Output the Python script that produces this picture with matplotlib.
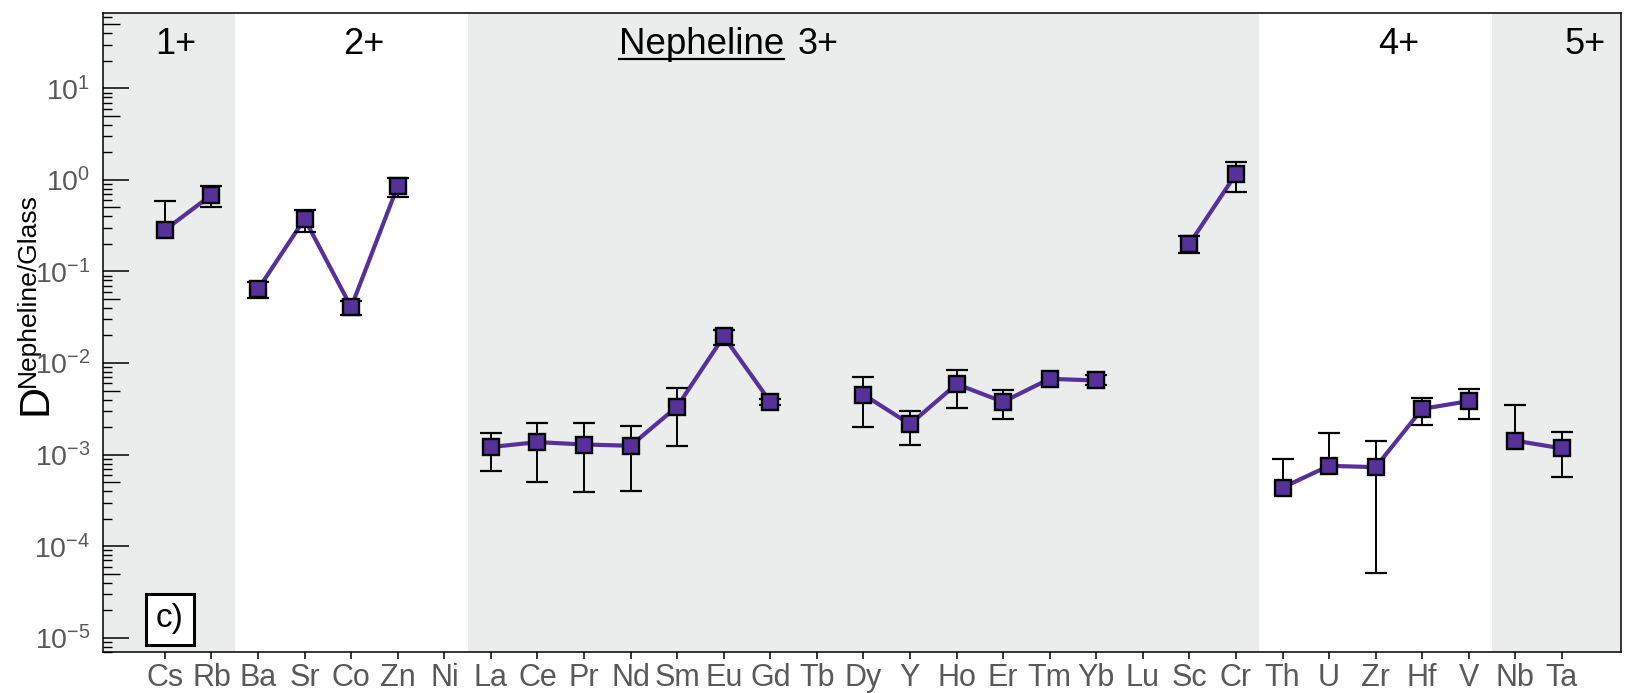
import numpy as np
import matplotlib
matplotlib.use('Agg')
import matplotlib.pyplot as plt
from matplotlib.ticker import LogLocator, NullFormatter, FuncFormatter, FixedLocator
from matplotlib.lines import Line2D

plt.rcParams['font.family'] = ['Liberation Sans', 'DejaVu Sans']
plt.rcParams['mathtext.fontset'] = 'custom'
plt.rcParams['mathtext.rm'] = 'Liberation Sans'
plt.rcParams['mathtext.it'] = 'Liberation Sans:italic'
plt.rcParams['mathtext.bf'] = 'Liberation Sans:bold'

nan = np.nan

# data
elements = ['Cs', 'Rb', 'Ba', 'Sr', 'Co', 'Zn', 'Ni', 'La', 'Ce', 'Pr', 'Nd', 'Sm',
            'Eu', 'Gd', 'Tb', 'Dy', 'Y', 'Ho', 'Er', 'Tm', 'Yb', 'Lu', 'Sc', 'Cr',
            'Th', 'U', 'Zr', 'Hf', 'V', 'Nb', 'Ta']
groups = [0, 0, 1, 1, 1, 1, 1, 2, 2, 2, 2, 2, 2, 2, 2, 2, 2, 2, 2, 2, 2, 2, 2, 2,
          3, 3, 3, 3, 3, 4, 4]
group_names = ['1+', '2+', '3+', '4+', '5+']

d_val = [0.284, 0.686, 0.064, 0.375, 0.0408, 0.86, nan,
         1.21e-3, 1.37e-3, 1.29e-3, 1.25e-3, 3.35e-3, 0.0195, 3.77e-3, nan,
         4.53e-3, 2.15e-3, 5.89e-3, 3.77e-3, 6.73e-3, 6.45e-3, nan, 0.20, 1.16,
         4.37e-4, 7.55e-4, 7.3e-4, 3.16e-3, 3.84e-3, 1.42e-3, 1.17e-3]
d_hi = [0.594, 0.86, 0.0776, 0.470, 0.0478, 1.04, nan,
        1.73e-3, 2.22e-3, 2.19e-3, 2.08e-3, 5.4e-3, 0.023, 4.1e-3, nan,
        7.0e-3, 2.98e-3, 8.43e-3, 5.1e-3, nan, 7.5e-3, nan, 0.245, 1.55,
        9.0e-4, 1.72e-3, 1.40e-3, 4.2e-3, 5.27e-3, 3.5e-3, 1.75e-3]
d_lo = [nan, 0.503, 0.051, 0.268, 0.0336, 0.658, nan,
        6.6e-4, 5.05e-4, 3.9e-4, 4.03e-4, 1.24e-3, 0.0157, 3.5e-3, nan,
        2.0e-3, 1.29e-3, 3.24e-3, 2.46e-3, nan, 5.7e-3, nan, 0.161, 0.745,
        nan, nan, 5.08e-5, 2.11e-3, 2.42e-3, nan, 5.77e-4]

purple = '#553199'
band_gray = '#ebedec'
tick_gray = '#58595b'

x = np.arange(len(elements))
val = np.array(d_val)
hi = np.array(d_hi)
lo = np.array(d_lo)
grp = np.array(groups)

fig = plt.figure(figsize=(16.32, 6.93), dpi=100)
ax = fig.add_axes([0.0631, 0.0592, 0.9302, 0.9225])
xlim = (-1.33, 31.27)
ax.set_xlim(*xlim)
ax.set_yscale('log')
ax.set_ylim(7e-6, 67)

# alternating background bands per charge group
for g in range(len(group_names)):
    idx = x[grp == g]
    a = idx.min() - 0.5 if g > 0 else xlim[0]
    b = idx.max() + 0.5 if g < len(group_names) - 1 else xlim[1]
    ax.axvspan(a, b, color=band_gray if g % 2 == 0 else 'white', lw=0, zorder=0)

# lines, one per group
for g in range(len(group_names)):
    m = grp == g
    ax.plot(x[m], val[m], color=purple, lw=3.0, zorder=2, solid_capstyle='butt')

# error bars
bar_lo = np.where(np.isnan(lo), val, lo)
bar_hi = np.where(np.isnan(hi), val, hi)
ax.vlines(x, bar_lo, bar_hi, color='black', lw=1.4, zorder=3)
ax.plot(x, lo, ls='none', marker='_', ms=16.5, mew=1.6, color='black', zorder=3)
ax.plot(x, hi, ls='none', marker='_', ms=16.5, mew=1.6, color='black', zorder=3)

# markers
ax.plot(x, val, ls='none', marker='s', ms=12, mfc=purple, mec='black', mew=1.7, zorder=4)

# axes styling
for s in ax.spines.values():
    s.set_linewidth(1.1)
ax.set_xticks(x)
ax.set_xticklabels(elements, fontsize=22, color=tick_gray)
ax.tick_params(axis='x', direction='out', length=5, width=1.1, pad=3)

ax.yaxis.set_major_locator(LogLocator(base=10, numticks=20))
ax.yaxis.set_major_formatter(FuncFormatter(lambda v, p: r'$\mathregular{10^{%d}}$' % round(np.log10(v))))
ax.yaxis.set_minor_locator(LogLocator(base=10, subs=(2, 3, 4, 6, 7, 8, 9), numticks=20))
ax.yaxis.set_minor_formatter(NullFormatter())
ax.tick_params(axis='y', which='major', direction='in', length=18.5, width=1.1,
               pad=9, labelsize=20.5, labelcolor=tick_gray)
ax.tick_params(axis='y', which='minor', direction='in', length=6.5, width=1.0)

# the longer 5x ticks
sec = ax.secondary_yaxis('left')
sec.set_yscale('log')
sec.yaxis.set_major_locator(FixedLocator([5 * 10.0 ** k for k in range(-6, 2)]))
sec.yaxis.set_minor_locator(FixedLocator([]))
sec.yaxis.set_major_formatter(NullFormatter())
sec.tick_params(axis='y', which='both', direction='in', length=12, width=1.0)
sec.spines['left'].set_visible(False)

# group labels
label_x = [0.23, 4.27, 14.02, 26.5, 30.5]
for name, gx in zip(group_names, label_x):
    ax.text(gx, 0.935, name, transform=ax.get_xaxis_transform(), ha='center',
            va='baseline', fontsize=26, zorder=5)
neph = ax.text(11.52, 0.935, 'Nepheline', transform=ax.get_xaxis_transform(),
               ha='center', va='baseline', fontsize=26.5, zorder=5)

# panel label
ax.text(170, 693 - 619, 'c)', transform=None, ha='center', va='center', fontsize=24,
        bbox=dict(boxstyle='square,pad=0.3', fc='white', ec='black', lw=2.2), zorder=6)

# y axis label
fig.text(36 / 1632, 1 - 400 / 693, 'D', rotation=90, ha='center', va='center', fontsize=31)
fig.text(16 / 1632, 1 - 387 / 693, 'Nepheline/Glass', rotation=90, ha='left',
         va='bottom', fontsize=19)

# underline for "Nepheline"
fig.canvas.draw()
bb = neph.get_window_extent(fig.canvas.get_renderer())
base_y = ax.get_xaxis_transform().transform((0, 0.935))[1]
fig.add_artist(Line2D([bb.x0, bb.x1], [base_y - 5, base_y - 5], color='black',
                      lw=1.6, transform=matplotlib.transforms.IdentityTransform()))

fig.savefig('out.png', dpi=100)
